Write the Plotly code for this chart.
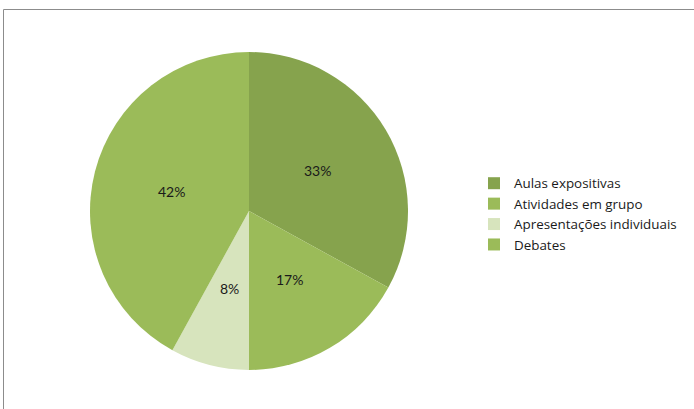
import math
import plotly.graph_objects as go

categories = ["Aulas expositivas", "Atividades em grupo", "Apresentações individuais", "Debates"]
values = [33, 17, 8, 42]
colors = ["#86a34d", "#9bbb59", "#d7e4bd", "#9bbb59"]

W, H = 694, 409
cx, cy, R = 249, 211, 159  # pixel center / radius of the pie

fig = go.Figure(go.Pie(
    labels=categories,
    values=values,
    sort=False,
    direction="clockwise",
    rotation=0,
    marker=dict(colors=colors, line=dict(width=0)),
    textinfo="none",
    domain=dict(x=[(cx - R) / W, (cx + R) / W], y=[(H - cy - R) / H, (H - cy + R) / H]),
    hoverinfo="label+percent",
))

# percentage labels at half radius, mid-angle of each slice
total = sum(values)
annotations = []
acc = 0
for v in values:
    mid = (acc + v / 2) / total * 2 * math.pi
    acc += v
    px = cx + 0.5 * R * math.sin(mid)
    py = cy - 0.5 * R * math.cos(mid)
    annotations.append(dict(
        x=px / W, y=1 - py / H, xref="paper", yref="paper",
        text=f"{round(v / total * 100)}%", showarrow=False,
        font=dict(family="Lato", size=14, color="#1a1a1a"),
        xanchor="center", yanchor="middle",
    ))

fig.update_layout(
    width=W, height=H,
    margin=dict(l=0, r=0, t=0, b=0),
    paper_bgcolor="white",
    showlegend=True,
    legend=dict(
        x=474 / W, y=1 - 168 / H, xanchor="left", yanchor="top",
        font=dict(family="Open Sans", size=13.4, color="#1a1a1a"),
        tracegroupgap=0, itemwidth=30,
    ),
    annotations=annotations,
    shapes=[dict(type="rect", xref="paper", yref="paper",
                 x0=3.5 / W, x1=1.05, y0=-0.05, y1=1 - 9.5 / H,
                 line=dict(color="#8c8c8c", width=1), fillcolor="rgba(0,0,0,0)")],
)

fig.write_html("out.html")
